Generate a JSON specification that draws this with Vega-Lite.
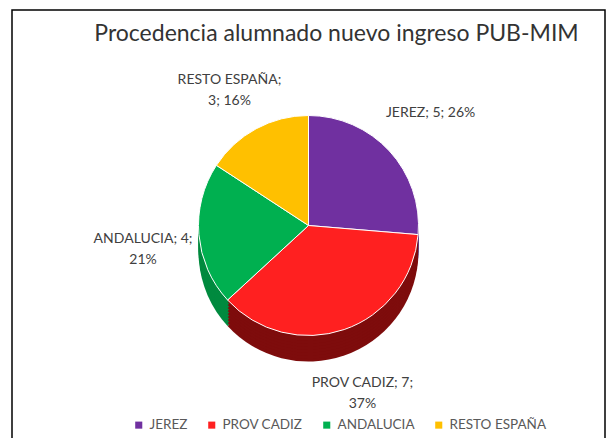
{
  "$schema": "https://vega.github.io/schema/vega-lite/v6.json",
  "width": 614,
  "height": 438,
  "autosize": {"type": "fit", "contains": "padding"},
  "padding": {"left": 12, "top": 10, "right": 9, "bottom": -3},
  "background": "white",
  "view": {"stroke": "#000000", "strokeWidth": 1.5},
  "config": {"view": {"stroke": "#000000", "strokeWidth": 1.5}},
  "title": {
    "text": "Procedencia alumnado nuevo ingreso PUB-MIM",
    "font": "Lato",
    "fontSize": 23,
    "fontWeight": "normal",
    "color": "#333333",
    "anchor": "middle",
    "frame": "group",
    "dx": 28,
    "offset": -36
  },
  "data": {
    "values": [
      {"origen": "JEREZ", "alumnos": 5, "orden": 1, "etiqueta": "JEREZ; 5; 26%"},
      {"origen": "PROV CADIZ", "alumnos": 7, "orden": 2, "etiqueta": "PROV CADIZ; 7;\n37%"},
      {"origen": "ANDALUCIA", "alumnos": 4, "orden": 3, "etiqueta": "ANDALUCIA; 4;\n21%"},
      {"origen": "RESTO ESPAÑA", "alumnos": 3, "orden": 4, "etiqueta": "RESTO ESPAÑA;\n3; 16%"}
    ]
  },
  "encoding": {
    "theta": {"field": "alumnos", "type": "quantitative", "stack": true},
    "order": {"field": "orden", "type": "quantitative"}
  },
  "layer": [
    {"mark": {"type": "arc", "radius": 110, "yOffset": 26}, "encoding": {"color": {"field": "origen", "type": "nominal", "legend": null, "scale": {"domain": ["JEREZ", "PROV CADIZ", "ANDALUCIA", "RESTO ESPAÑA"], "range": ["#4a1f6b", "#7e0c0c", "#008a3f", "#b08600"]}}}},
    {"mark": {"type": "arc", "radius": 110, "yOffset": 23}, "encoding": {"color": {"field": "origen", "type": "nominal", "legend": null, "scale": {"domain": ["JEREZ", "PROV CADIZ", "ANDALUCIA", "RESTO ESPAÑA"], "range": ["#4a1f6b", "#7e0c0c", "#008a3f", "#b08600"]}}}},
    {"mark": {"type": "arc", "radius": 110, "yOffset": 20}, "encoding": {"color": {"field": "origen", "type": "nominal", "legend": null, "scale": {"domain": ["JEREZ", "PROV CADIZ", "ANDALUCIA", "RESTO ESPAÑA"], "range": ["#4a1f6b", "#7e0c0c", "#008a3f", "#b08600"]}}}},
    {"mark": {"type": "arc", "radius": 110, "yOffset": 17}, "encoding": {"color": {"field": "origen", "type": "nominal", "legend": null, "scale": {"domain": ["JEREZ", "PROV CADIZ", "ANDALUCIA", "RESTO ESPAÑA"], "range": ["#4a1f6b", "#7e0c0c", "#008a3f", "#b08600"]}}}},
    {"mark": {"type": "arc", "radius": 110, "yOffset": 14}, "encoding": {"color": {"field": "origen", "type": "nominal", "legend": null, "scale": {"domain": ["JEREZ", "PROV CADIZ", "ANDALUCIA", "RESTO ESPAÑA"], "range": ["#4a1f6b", "#7e0c0c", "#008a3f", "#b08600"]}}}},
    {"mark": {"type": "arc", "radius": 110, "yOffset": 11}, "encoding": {"color": {"field": "origen", "type": "nominal", "legend": null, "scale": {"domain": ["JEREZ", "PROV CADIZ", "ANDALUCIA", "RESTO ESPAÑA"], "range": ["#4a1f6b", "#7e0c0c", "#008a3f", "#b08600"]}}}},
    {"mark": {"type": "arc", "radius": 110, "yOffset": 8}, "encoding": {"color": {"field": "origen", "type": "nominal", "legend": null, "scale": {"domain": ["JEREZ", "PROV CADIZ", "ANDALUCIA", "RESTO ESPAÑA"], "range": ["#4a1f6b", "#7e0c0c", "#008a3f", "#b08600"]}}}},
    {"mark": {"type": "arc", "radius": 110, "yOffset": 5}, "encoding": {"color": {"field": "origen", "type": "nominal", "legend": null, "scale": {"domain": ["JEREZ", "PROV CADIZ", "ANDALUCIA", "RESTO ESPAÑA"], "range": ["#4a1f6b", "#7e0c0c", "#008a3f", "#b08600"]}}}},
    {"mark": {"type": "arc", "radius": 110, "yOffset": 2}, "encoding": {"color": {"field": "origen", "type": "nominal", "legend": null, "scale": {"domain": ["JEREZ", "PROV CADIZ", "ANDALUCIA", "RESTO ESPAÑA"], "range": ["#4a1f6b", "#7e0c0c", "#008a3f", "#b08600"]}}}},
    {
      "mark": {"type": "arc", "radius": 110, "stroke": "#ffffff", "strokeWidth": 1},
      "encoding": {
        "color": {"field": "origen", "type": "nominal",
          "scale": {"domain": ["JEREZ", "PROV CADIZ", "ANDALUCIA", "RESTO ESPAÑA"], "range": ["#7030a0", "#ff2020", "#00b050", "#ffc000"]},
          "legend": {"orient": "none", "legendX": 120, "legendY": 408, "direction": "horizontal", "title": null,
            "symbolType": "square", "symbolSize": 50, "symbolStrokeWidth": 0,
            "labelFont": "Lato", "labelFontSize": 13.5, "labelColor": "#595959", "columnPadding": 17}}
      }
    },
    {
      "mark": {"type": "text", "radius": 166, "font": "Lato", "fontSize": 14, "color": "#404040", "lineBreak": "\n", "lineHeight": 21, "align": "center", "baseline": "middle"},
      "encoding": {
        "text": {"field": "etiqueta", "type": "nominal"}
      }
    }
  ],
  "resolve": {"scale": {"color": "independent"}}
}
